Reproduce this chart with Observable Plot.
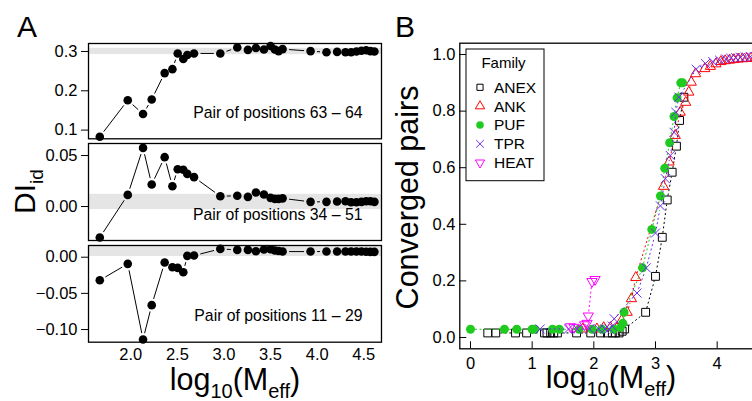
<!DOCTYPE html>
<html><head><meta charset="utf-8">
<script src="https://cdn.jsdelivr.net/npm/d3@7"></script>
<script src="https://cdn.jsdelivr.net/npm/@observablehq/plot@0.6"></script>
<style>
html,body{margin:0;padding:0;width:752px;height:401px;overflow:hidden;background:#fff;}
#root{position:relative;width:752px;height:401px;overflow:hidden;font-family:"Liberation Sans",Arial,sans-serif;}
#root svg{position:absolute;}
</style></head><body><div id="root"></div>
<script>
// ---------- Panel A data ----------
const xA = [1.668, 1.968, 2.132, 2.225, 2.364, 2.447, 2.504, 2.564, 2.607, 2.679, 2.961, 3.143, 3.257, 3.343, 3.429, 3.500, 3.546, 3.586, 3.629, 3.929, 4.100, 4.214, 4.304, 4.364, 4.421, 4.475, 4.525, 4.571, 4.614];
const di63_64 = [0.083,0.176,0.141,0.178,0.245,0.255,0.295,0.281,0.291,0.295,0.295,0.310,0.304,0.309,0.305,0.314,0.305,0.301,0.306,0.301,0.298,0.299,0.298,0.298,0.300,0.302,0.303,0.301,0.300];
const di34_51 = [-0.0304,0.0114,0.0575,0.0216,0.0484,0.0199,0.0366,0.0360,0.0320,0.0288,0.0101,0.0105,0.0095,0.0137,0.0118,0.0085,0.0075,0.0075,0.0080,0.0046,0.0046,0.0049,0.0052,0.0042,0.0042,0.0046,0.0052,0.0052,0.0046];
const di11_29 = [-0.0318,-0.0092,-0.1137,-0.0663,-0.0074,-0.0138,-0.0147,-0.0207,0.0019,0.0023,0.0115,0.0101,0.0101,0.0083,0.0106,0.0110,0.0092,0.0085,0.0078,0.0078,0.0078,0.0078,0.0078,0.0078,0.0078,0.0078,0.0076,0.0074,0.0074];
const band63_64 = [0.292, 0.308];
const band34_51 = [-0.003, 0.012];
const band11_29 = [0.001, 0.0162];
const labels = ["Pair of positions 63 \u2013 64", "Pair of positions 34 \u2013 51", "Pair of positions 11 \u2013 29"];
const ticksTop = [0.1, 0.2, 0.3];
const ticksMid = [0, 0.05];
const ticksBot = [-0.1, -0.05, 0];
const ticksXA = [2, 2.5, 3, 3.5, 4, 4.5];
const xDomainA = [1.547, 4.69];

// ---------- Panel B data ----------
const families = ["ANEX", "ANK", "PUF", "TPR", "HEAT"];
const colors = ["#000000", "#ff0000", "#1ecb1e", "#6a2cf5", "#ff00ff"];
const anexX = [0.28,0.41,0.73,0.91,1.20,1.24,1.30,1.35,1.41,1.72,1.95,2.11,2.22,2.30,2.35,2.41,2.46,2.50,2.84,3.00,3.11,3.19,3.27,3.34,3.39,3.46];
const anexY = [0.016,0.016,0.016,0.016,0.016,0.016,0.016,0.016,0.016,0.016,0.016,0.016,0.016,0.016,0.016,0.016,0.022,0.030,0.089,0.216,0.354,0.486,0.584,0.676,0.767,0.849];
const ankX = [1.82,2.05,2.16,2.27,2.38,2.45,2.54,2.61,2.68,3.13,3.22,3.32,3.40,3.49,3.54,3.58,3.65,3.80,3.89,3.98,4.06,4.13,4.20,4.27,4.34,4.41,4.48,4.55,4.62];
const ankY = [0.030,0.030,0.035,0.035,0.035,0.060,0.089,0.137,0.212,0.534,0.620,0.714,0.796,0.831,0.867,0.902,0.932,0.950,0.958,0.967,0.975,0.978,0.980,0.982,0.984,0.985,0.986,0.987,0.988];
const pufX = [0.00,0.55,0.75,1.00,1.04,1.33,1.44,1.76,1.97,2.13,2.32,2.43,2.47,2.49,2.79,2.94,3.08,3.15,3.23,3.30,3.35,3.41,3.44];
const pufY = [0.029,0.029,0.029,0.029,0.029,0.029,0.029,0.029,0.029,0.029,0.029,0.035,0.050,0.089,0.246,0.382,0.500,0.598,0.688,0.781,0.847,0.900,0.900];
const tprX = [1.13,1.59,1.73,1.93,2.08,2.18,2.25,2.30,2.33,2.70,2.85,3.00,3.08,3.16,3.24,3.30,3.33,3.38,3.66,3.81,3.93,4.04,4.14,4.22,4.30,4.38,4.46,4.54,4.62];
const tprY = [0.030,0.030,0.030,0.030,0.030,0.030,0.030,0.040,0.066,0.157,0.246,0.369,0.465,0.561,0.643,0.725,0.796,0.849,0.948,0.968,0.975,0.980,0.984,0.987,0.989,0.990,0.991,0.992,0.993];
const heatX = [1.62,1.68,1.85,1.89,1.91,1.97,2.02];
const heatY = [0.038,0.036,0.045,0.050,0.076,0.198,0.205];
const ticksXB = [0, 1, 2, 3, 4];
const ticksYB = [0, 0.2, 0.4, 0.6, 0.8, 1.0];

const root = document.getElementById("root");
const baseStyle = {background: "transparent", overflow: "visible", fontFamily: "Liberation Sans, Arial, sans-serif", fontSize: "16.5px", color: "black"};

function segments(xs, ys) {
  const s = [];
  for (let i = 1; i < xs.length; i++) s.push({x1: xs[i-1], y1: ys[i-1], x2: xs[i], y2: ys[i]});
  return s;
}

function panelA(values, domain, ticks, fmt, band, label, top, frameH, showX) {
  const mt = 10, mb = showX ? 34 : 10;
  const data = xA.map((x, i) => ({x, y: values[i]}));
  const p = Plot.plot({
    width: 390, height: frameH + mt + mb,
    marginLeft: 88, marginRight: 9, marginTop: mt, marginBottom: mb,
    style: baseStyle,
    x: {domain: xDomainA, ticks: ticksXA, tickFormat: d3.format(".1f"), tickSize: 0, tickPadding: 6.5, label: null, axis: showX ? "bottom" : null},
    y: {domain, ticks, tickFormat: d3.format(fmt), tickSize: 7, tickPadding: 4, label: null},
    marks: [
      Plot.rect([band], {x1: () => xDomainA[0], x2: () => xDomainA[1], y1: d => d[0], y2: d => d[1], fill: "#e5e5e5"}),
      Plot.arrow(segments(xA, values), {x1: "x1", y1: "y1", x2: "x2", y2: "y2", stroke: "black", strokeWidth: 1, headLength: 0, insetStart: 6.5, insetEnd: 6.5, strokeLinecap: "butt"}),
      Plot.dot(data, {x: "x", y: "y", r: 4.3, fill: "black", stroke: "none"}),
      Plot.text([label], {text: d => d, frameAnchor: "bottom-right", textAnchor: "end", dx: -19, dy: -21, fontSize: 15.8}),
      Plot.frame({stroke: "black", strokeWidth: 1.3})
    ]
  });
  p.style.left = "0px";
  p.style.top = (top - mt) + "px";
  root.appendChild(p);
}

panelA(di63_64, [0.0779, 0.3203], ticksTop, ".1f", band63_64, labels[0], 42.7, 95.3, false);
panelA(di34_51, [-0.0333, 0.0618], ticksMid, ".2f", band34_51, labels[1], 143, 97, false);
panelA(di11_29, [-0.1175, 0.0162], ticksBot, ".2f", band11_29, labels[2], 245, 96.7, true);

// ---------- Panel B ----------
(function () {
  const W = 360, H = 358.3, ml = 59.3, mr = 4, mt = 12.7, mb = 40;
  const pw = W - ml - mr, ph = H - mt - mb;
  const series = [
    {xs: anexX, ys: anexY, symbol: "square2", r: 5.0, filled: false},
    {xs: ankX, ys: ankY, symbol: "triangle2", r: 4.9, filled: false},
    {xs: pufX, ys: pufY, symbol: "circle", r: 4.5, filled: true},
    {xs: tprX, ys: tprY, symbol: "times", r: 4.2, filled: false},
    {xs: heatX, ys: heatY, symbol: "triangle2", r: 4.9, filled: false, rotate: 180}
  ];
  const marks = [
    Plot.tickY(ticksYB, {y: d => d, stroke: "black", strokeWidth: 1, insetRight: pw - 7}),
    Plot.tickX(ticksXB, {x: d => d, stroke: "black", strokeWidth: 1, insetTop: ph - 7})
  ];
  series.forEach((s, i) => {
    const c = colors[i];
    const data = s.xs.map((x, j) => ({x, y: s.ys[j]}));
    marks.push(Plot.arrow(segments(s.xs, s.ys), {x1: "x1", y1: "y1", x2: "x2", y2: "y2", stroke: c, strokeWidth: 1, strokeDasharray: "2,2.5", headLength: 0, insetStart: 4.5, insetEnd: 4.5, strokeLinecap: "butt"}));
    const opts = {x: "x", y: "y", r: s.r, symbol: s.symbol};
    if (s.filled) { opts.fill = c; opts.stroke = "none"; }
    else { opts.fill = "none"; opts.stroke = c; opts.strokeWidth = 1; }
    if (s.rotate) opts.rotate = s.rotate;
    marks.push(Plot.dot(data, opts));
  });
  marks.push(Plot.frame({stroke: "black", strokeWidth: 1.3}));
  const p = Plot.plot({
    width: W, height: H, marginLeft: ml, marginRight: mr, marginTop: mt, marginBottom: mb,
    style: baseStyle,
    x: {domain: [-0.1735, 4.638], ticks: ticksXB, tickFormat: d3.format("d"), tickSize: 0, tickPadding: 8, label: null},
    y: {domain: [-0.04, 1.04], ticks: ticksYB, tickFormat: d3.format(".1f"), tickSize: 0, tickPadding: 4.3, label: null},
    marks
  });
  p.style.left = "400px";
  p.style.top = (42.7 - mt) + "px";
  root.appendChild(p);
})();

// ---------- Legend (Family), titles, panel letters ----------
(function () {
  const ff = "Liberation Sans, Arial, sans-serif";
  const svg = d3.select(root).append("svg")
    .attr("width", 752).attr("height", 401)
    .style("left", "0px").style("top", "0px").style("overflow", "visible");
  svg.append("rect").attr("x", 466).attr("y", 49).attr("width", 78).attr("height", 131.7)
    .attr("fill", "white").attr("stroke", "black").attr("stroke-width", 1);
  svg.append("text").attr("x", 503.5).attr("y", 63).attr("dy", "0.35em").attr("text-anchor", "middle")
    .attr("font-size", 15).attr("font-family", ff).text("Family");
  const syms = [d3.symbolSquare2, d3.symbolTriangle2, d3.symbolCircle, d3.symbolTimes, d3.symbolTriangle2];
  const sizes = [48, 62, 44, 40, 62];
  families.forEach((f, i) => {
    const y = 87.3 + i * 18.85;
    const g = svg.append("g").attr("transform", `translate(480,${y})` + (i === 4 ? " rotate(180)" : ""));
    g.append("path").attr("d", d3.symbol(syms[i], sizes[i])())
      .attr("fill", i === 2 ? colors[i] : "none")
      .attr("stroke", i === 2 ? "none" : colors[i]).attr("stroke-width", 1);
    svg.append("text").attr("x", 494).attr("y", y).attr("dy", "0.35em")
      .attr("font-size", 15.5).attr("font-family", ff).text(f);
  });

  svg.append("text").attr("x", 17).attr("y", 36.7).attr("font-size", 30).attr("font-family", ff).text("A");
  svg.append("text").attr("x", 395).attr("y", 37.3).attr("font-size", 30).attr("font-family", ff).text("B");

  function logTitle(cx, by) {
    const t = svg.append("text").attr("x", cx).attr("y", by).attr("text-anchor", "middle")
      .attr("font-size", 30.5).attr("font-family", ff);
    t.append("tspan").text("log");
    t.append("tspan").attr("font-size", 20).attr("dy", 8).text("10");
    t.append("tspan").attr("dy", -8).text("(M");
    t.append("tspan").attr("font-size", 20).attr("dy", 8).text("eff");
    t.append("tspan").attr("dy", -8).text(")");
  }
  logTitle(235, 390);
  logTitle(611, 388);

  const di = svg.append("text").attr("transform", "translate(35,191.5) rotate(-90)")
    .attr("text-anchor", "middle").attr("font-size", 30).attr("font-family", ff);
  di.append("tspan").text("DI");
  di.append("tspan").attr("font-size", 19).attr("dy", 8).text("id");

  svg.append("text").attr("transform", "translate(418,197.5) rotate(-90)")
    .attr("text-anchor", "middle").attr("font-size", 30.5).attr("font-family", ff).text("Converged pairs");
})();
</script>
</body></html>
